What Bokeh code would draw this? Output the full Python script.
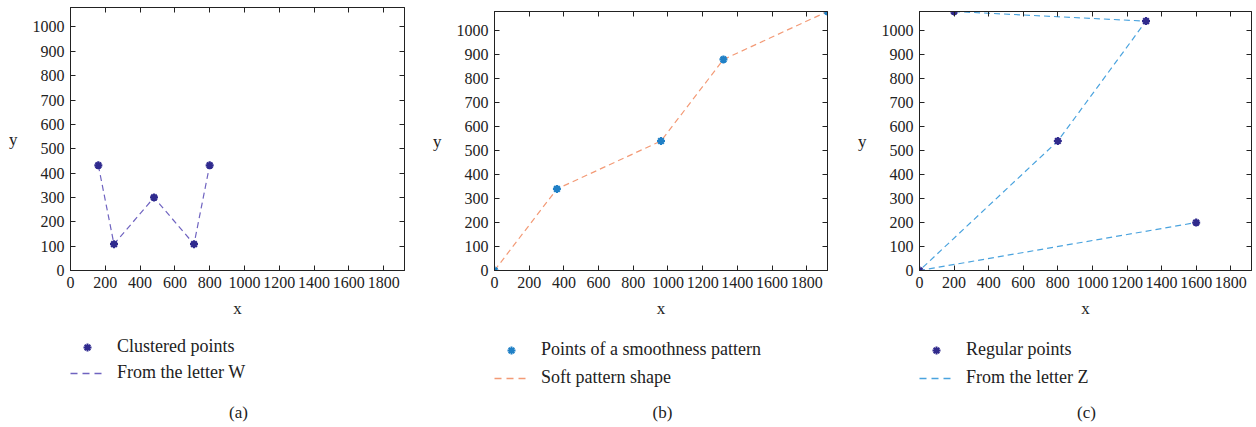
from bokeh.plotting import figure
from bokeh.layouts import row, column
from bokeh.models import (Legend, LegendItem, Label, LinearAxis, Range1d, FixedTicker,
                          CustomLabelingPolicy)
from bokeh.embed import file_html
from bokeh.resources import INLINE

# Panel (a): letter W
a_x = [160, 250, 480, 710, 800]
a_y = [432, 108, 300, 108, 432]
# Panel (b): smoothness pattern
b_x = [0, 360, 960, 1320, 1920]
b_y = [0, 340, 540, 880, 1080]
# Panel (c): letter Z
c_x = [200, 1310, 800, 0, 1600]
c_y = [1080, 1040, 540, 0, 200]

x_ticks = [0, 200, 400, 600, 800, 1000, 1200, 1400, 1600, 1800]
y_ticks = [0, 100, 200, 300, 400, 500, 600, 700, 800, 900, 1000]

panels = [
    dict(x=a_x, y=a_y, pts="Clustered points", line="From the letter W", cap="(a)",
         mcol="#2f2a8e", lcol="#6f63c0", w=420, bl=70, br=16, bt=7,
         ly=44, sp=5, cx=168),
    dict(x=b_x, y=b_y, pts="Points of a smoothness pattern", line="Soft pattern shape", cap="(b)",
         mcol="#2080c6", lcol="#f39a76", w=420, bl=74, br=13, bt=11,
         ly=39, sp=7, cx=168),
    dict(x=c_x, y=c_y, pts="Regular points", line="From the letter Z", cap="(c)",
         mcol="#302a8c", lcol="#4aa3de", w=416, bl=79, br=4, bt=11,
         ly=39, sp=7, cx=167),
]

FONT = "Liberation Serif"
TXT = "#222222"
MAIN_H = 320
LEG_H = 427 - MAIN_H

no_labels = CustomLabelingPolicy(code="return new Set()")

cols = []
for d in panels:
    p = figure(width=d["w"], height=MAIN_H, output_backend="svg", toolbar_location=None,
               x_range=Range1d(0, 1920), y_range=Range1d(0, 1080),
               min_border_left=d["bl"], min_border_right=d["br"],
               min_border_top=d["bt"], min_border_bottom=48)
    p.grid.visible = False
    p.outline_line_color = TXT
    p.outline_line_width = 1
    p.background_fill_color = "white"
    p.border_fill_color = "white"

    for ax in p.xaxis:
        ax.ticker = FixedTicker(ticks=x_ticks)
        ax.axis_label = "x"
        ax.axis_label_standoff = 8
    for ax in p.yaxis:
        ax.ticker = FixedTicker(ticks=y_ticks)
        ax.axis_label = "y"
        ax.axis_label_orientation = "horizontal"
        ax.axis_label_standoff = 12
    for ax in list(p.xaxis) + list(p.yaxis):
        ax.major_tick_in = 5
        ax.major_tick_out = 0
        ax.minor_tick_line_color = None
        ax.major_label_text_font = FONT
        ax.major_label_text_font_size = "16px"
        ax.major_label_text_color = TXT
        ax.major_label_standoff = 6
        ax.axis_label_text_font = FONT
        ax.axis_label_text_font_size = "17px"
        ax.axis_label_text_font_style = "normal"
        ax.axis_label_text_color = TXT
        ax.axis_line_color = TXT
        ax.major_tick_line_color = TXT

    top = LinearAxis(ticker=FixedTicker(ticks=x_ticks), major_tick_in=5, major_tick_out=0,
                     minor_tick_line_color=None, major_label_text_font_size="1px",
                     major_label_policy=no_labels, major_tick_line_color=TXT,
                     major_label_standoff=0, axis_line_color=TXT)
    right = LinearAxis(ticker=FixedTicker(ticks=y_ticks), major_tick_in=5, major_tick_out=0,
                       minor_tick_line_color=None, major_label_text_font_size="1px",
                       major_label_policy=no_labels, major_tick_line_color=TXT,
                       major_label_standoff=0, axis_line_color=TXT)
    p.add_layout(top, "above")
    p.add_layout(right, "right")

    p.line(d["x"], d["y"], line_color=d["lcol"], line_width=1.2, line_dash="6 4")
    p.scatter(d["x"], d["y"], marker="asterisk", size=8, line_color=d["mcol"], line_width=2.2)

    # legend + caption strip under the panel (its frame is aligned with the panel's frame)
    q = figure(width=d["w"], height=LEG_H, output_backend="svg", toolbar_location=None,
               x_range=Range1d(-2, -1), y_range=Range1d(-2, -1),
               x_axis_type=None, y_axis_type=None,
               min_border_left=0, min_border_right=0, min_border_top=0, min_border_bottom=0)
    q.grid.visible = False
    q.outline_line_color = None
    q.background_fill_color = "white"
    q.border_fill_color = "white"
    # same series, out of this strip's view: they only provide the legend glyphs
    lsc = q.scatter(d["x"], d["y"], marker="asterisk", size=6, line_color=d["mcol"], line_width=2)
    lln = q.line(d["x"], d["y"], line_color=d["lcol"], line_width=1.5, line_dash="7 5")
    leg = Legend(items=[LegendItem(label=d["pts"], renderers=[lsc]),
                        LegendItem(label=d["line"], renderers=[lln])],
                 location=(0, d["ly"]), padding=0, margin=0, spacing=d["sp"],
                 glyph_width=34, glyph_height=20, label_height=20, label_standoff=13,
                 label_text_font=FONT, label_text_font_size="18px", label_text_color=TXT,
                 border_line_alpha=0, background_fill_alpha=0)
    q.add_layout(leg, "center")
    cap = Label(x=d["cx"], y=15, x_units="screen", y_units="screen", text=d["cap"],
                text_font=FONT, text_font_size="17px", text_color=TXT,
                text_align="center", text_baseline="middle")
    q.add_layout(cap)

    cols.append(column(p, q, spacing=0))

layout = row(*cols, spacing=0)
open("out.html", "w").write(file_html(layout, INLINE))
